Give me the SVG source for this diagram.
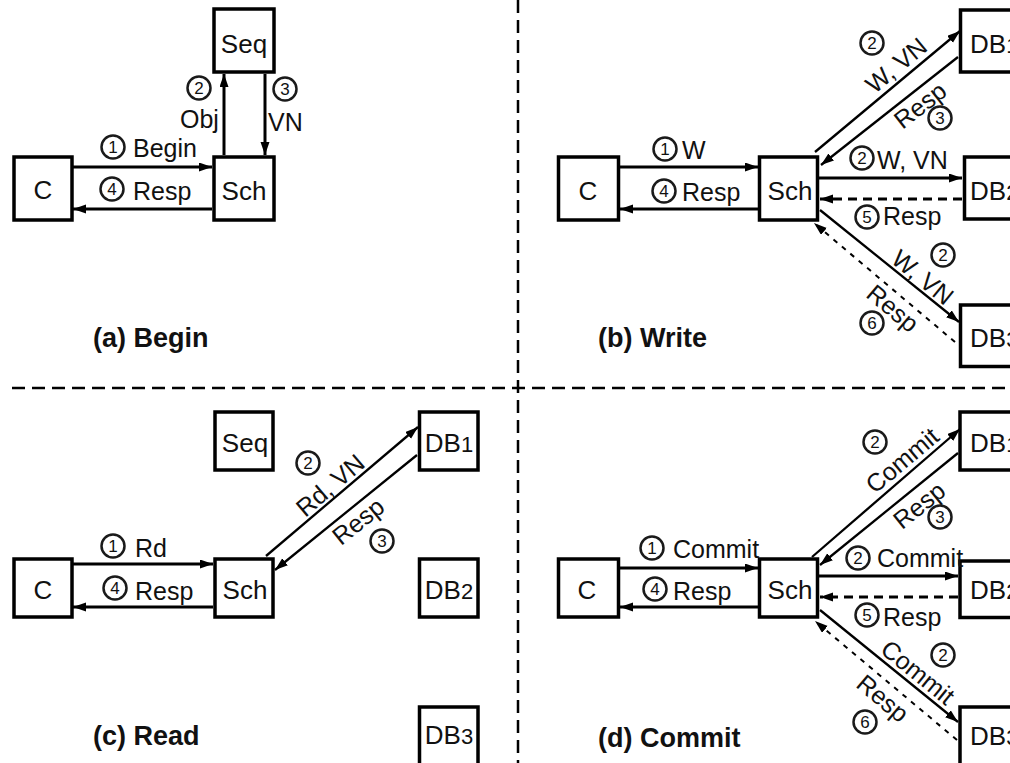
<svg xmlns="http://www.w3.org/2000/svg" width="1010" height="763" viewBox="0 0 1010 763">
<style>
text{font-family:"Liberation Sans",Arial,sans-serif;fill:#111}
.box{fill:#fff;stroke:#000;stroke-width:3.5}
.nl{font-size:26px}
.nc{text-anchor:middle}
.dg{font-size:22px}
.el{font-size:25px}
.num circle{fill:none;stroke:#1a1a1a;stroke-width:2.5}
.num text{font-size:17px;text-anchor:middle}
.rl{text-anchor:middle}
.ln{stroke:#000;stroke-width:3;fill:none;marker-end:url(#ah)}
.dgl{stroke-width:2.3}
.ds{stroke-dasharray:9 6}
.dd{stroke-dasharray:5 6;stroke-width:2}
.div{stroke:#000;stroke-width:2.5;stroke-dasharray:13 7;fill:none}
.cap{font-weight:bold;font-size:27px}
</style>
<defs>
<marker id="ah" markerUnits="userSpaceOnUse" markerWidth="14" markerHeight="10" refX="13" refY="4.5" orient="auto">
<path d="M0,0 L13,4.5 L0,9 Z" fill="#000"/>
</marker>
</defs>
<rect width="1010" height="763" fill="#fff"/>
<g id="dividers">
<line class="div" x1="518" y1="0" x2="518" y2="763"/>
<line class="div" x1="12" y1="388" x2="1010" y2="388"/>
</g>
<g id="connectors">
<!-- (a) -->
<line class="ln" x1="73" y1="167" x2="212" y2="167"/>
<line class="ln" x1="212" y1="209" x2="73" y2="209"/>
<line class="ln" x1="224" y1="155" x2="224" y2="74"/>
<line class="ln" x1="265" y1="74" x2="265" y2="155"/>
<!-- (b) -->
<line class="ln" x1="620" y1="167" x2="758" y2="167"/>
<line class="ln" x1="758" y1="209" x2="620" y2="209"/>
<line class="ln dgl" x1="815" y1="152" x2="960" y2="31"/>
<line class="ln dgl" x1="958" y1="57" x2="821" y2="165"/>
<line class="ln" x1="819" y1="178" x2="962" y2="178"/>
<line class="ln ds" x1="962" y1="199" x2="820" y2="199"/>
<line class="ln dgl" x1="820" y1="210" x2="959" y2="322"/>
<line class="ln dd" x1="955" y1="342" x2="814" y2="223"/>
<!-- (c) -->
<line class="ln" x1="73" y1="564" x2="213" y2="564"/>
<line class="ln" x1="213" y1="607" x2="73" y2="607"/>
<line class="ln dgl" x1="266" y1="556" x2="418" y2="427"/>
<line class="ln dgl" x1="417" y1="455" x2="275" y2="570"/>
<!-- (d) -->
<line class="ln" x1="620" y1="568" x2="758" y2="568"/>
<line class="ln" x1="758" y1="607" x2="620" y2="607"/>
<line class="ln dgl" x1="812" y1="557" x2="960" y2="429"/>
<line class="ln dgl" x1="958" y1="453" x2="820" y2="565"/>
<line class="ln" x1="819" y1="576" x2="958" y2="576"/>
<line class="ln ds" x1="958" y1="597" x2="820" y2="597"/>
<line class="ln dgl" x1="820" y1="610" x2="958" y2="722"/>
<line class="ln dd" x1="957" y1="740" x2="815" y2="621"/>
</g>
<!-- nodes (a) -->
<g id="a-seq"><rect class="box" x="214" y="9" width="60" height="63"/><text class="nl nc" x="244" y="53">Seq</text></g>
<g id="a-c"><rect class="box" x="14" y="157" width="58" height="63"/><text class="nl nc" x="43" y="199">C</text></g>
<g id="a-sch"><rect class="box" x="214" y="157" width="60" height="63"/><text class="nl nc" x="244" y="200">Sch</text></g>
<!-- nodes (b) -->
<g id="b-c"><rect class="box" x="558.5" y="157" width="60" height="63"/><text class="nl nc" x="588" y="200">C</text></g>
<g id="b-sch"><rect class="box" x="759.5" y="157" width="58" height="63"/><text class="nl nc" x="790" y="200">Sch</text></g>
<g id="b-db1"><rect class="box" x="960.5" y="10" width="70" height="62"/><text class="nl" x="970" y="53">DB<tspan class="dg">1</tspan></text></g>
<g id="b-db2"><rect class="box" x="964.5" y="157" width="70" height="62"/><text class="nl" x="970" y="200">DB<tspan class="dg">2</tspan></text></g>
<g id="b-db3"><rect class="box" x="960.5" y="305" width="70" height="61.5"/><text class="nl" x="970" y="347">DB<tspan class="dg">3</tspan></text></g>
<!-- nodes (c) -->
<g id="c-seq"><rect class="box" x="215" y="412" width="58" height="58"/><text class="nl nc" x="245" y="452">Seq</text></g>
<g id="c-db1"><rect class="box" x="419.5" y="412" width="58.5" height="58"/><text class="nl nc" x="449" y="452">DB<tspan class="dg">1</tspan></text></g>
<g id="c-c"><rect class="box" x="14" y="559" width="58" height="58"/><text class="nl nc" x="43" y="599">C</text></g>
<g id="c-sch"><rect class="box" x="215" y="559" width="58" height="58"/><text class="nl nc" x="245" y="599">Sch</text></g>
<g id="c-db2"><rect class="box" x="419.5" y="559" width="58.5" height="58"/><text class="nl nc" x="449" y="599">DB<tspan class="dg">2</tspan></text></g>
<g id="c-db3"><rect class="box" x="419.5" y="707" width="58.5" height="80"/><text class="nl nc" x="449" y="744">DB<tspan class="dg">3</tspan></text></g>
<!-- nodes (d) -->
<g id="d-c"><rect class="box" x="558.5" y="559" width="60" height="58"/><text class="nl nc" x="587" y="599">C</text></g>
<g id="d-sch"><rect class="box" x="759.5" y="559" width="58" height="58"/><text class="nl nc" x="790" y="599">Sch</text></g>
<g id="d-db1"><rect class="box" x="960" y="412" width="70" height="58"/><text class="nl" x="970" y="452">DB<tspan class="dg">1</tspan></text></g>
<g id="d-db2"><rect class="box" x="960" y="561" width="70" height="56.5"/><text class="nl" x="970" y="599">DB<tspan class="dg">2</tspan></text></g>
<g id="d-db3"><rect class="box" x="960" y="707" width="70" height="80"/><text class="nl" x="970" y="745">DB<tspan class="dg">3</tspan></text></g>
<!-- edge labels -->
<g id="labels">
<g class="num">
<circle cx="113" cy="147" r="11.5"/><text x="113" y="153">1</text>
<circle cx="112" cy="189" r="11.5"/><text x="112" y="195">4</text>
<circle cx="199" cy="88" r="11.5"/><text x="199" y="94">2</text>
<circle cx="285" cy="89" r="11.5"/><text x="285" y="95">3</text>
<circle cx="665" cy="149" r="11.5"/><text x="665" y="155">1</text>
<circle cx="664" cy="191" r="11.5"/><text x="664" y="197">4</text>
<circle cx="872" cy="43" r="11.5"/><text x="872" y="49">2</text>
<circle cx="940" cy="118" r="11.5"/><text x="940" y="124">3</text>
<circle cx="862" cy="158" r="11.5"/><text x="862" y="164">2</text>
<circle cx="867" cy="217" r="11.5"/><text x="867" y="223">5</text>
<circle cx="943" cy="255" r="11.5"/><text x="943" y="261">2</text>
<circle cx="872" cy="323" r="11.5"/><text x="872" y="329">6</text>
<circle cx="113" cy="546" r="11.5"/><text x="113" y="552">1</text>
<circle cx="115" cy="588" r="11.5"/><text x="115" y="594">4</text>
<circle cx="308" cy="463" r="11.5"/><text x="308" y="469">2</text>
<circle cx="382" cy="541" r="11.5"/><text x="382" y="547">3</text>
<circle cx="652" cy="548" r="11.5"/><text x="652" y="554">1</text>
<circle cx="655" cy="589" r="11.5"/><text x="655" y="595">4</text>
<circle cx="875" cy="442" r="11.5"/><text x="875" y="448">2</text>
<circle cx="940" cy="517" r="11.5"/><text x="940" y="523">3</text>
<circle cx="858" cy="558" r="11.5"/><text x="858" y="564">2</text>
<circle cx="867" cy="615" r="11.5"/><text x="867" y="621">5</text>
<circle cx="943" cy="655" r="11.5"/><text x="943" y="661">2</text>
<circle cx="865" cy="722" r="11.5"/><text x="865" y="728">6</text>
</g>
<text class="el" x="133" y="157">Begin</text>
<text class="el" x="133" y="200">Resp</text>
<text class="el" x="180" y="128">Obj</text>
<text class="el" x="268" y="131">VN</text>
<text class="el" x="682" y="159">W</text>
<text class="el" x="682" y="201">Resp</text>
<text class="el rl" transform="translate(896,65) rotate(-39.5)" x="0" y="9">W, VN</text>
<text class="el rl" transform="translate(920,105) rotate(-38)" x="0" y="9">Resp</text>
<text class="el" x="877" y="169">W, VN</text>
<text class="el" x="883" y="225">Resp</text>
<text class="el rl" transform="translate(923,277) rotate(39)" x="0" y="9">W, VN</text>
<text class="el rl" transform="translate(893,308) rotate(40)" x="0" y="9">Resp</text>
<text class="el" x="135" y="557">Rd</text>
<text class="el" x="135" y="600">Resp</text>
<text class="el rl" transform="translate(330,485) rotate(-40.5)" x="0" y="9">Rd, VN</text>
<text class="el rl" transform="translate(358,521) rotate(-39)" x="0" y="9">Resp</text>
<text class="el" x="673" y="558">Commit</text>
<text class="el" x="673" y="600">Resp</text>
<text class="el rl" transform="translate(902,460) rotate(-40)" x="0" y="9">Commit</text>
<text class="el rl" transform="translate(919,505) rotate(-39)" x="0" y="9">Resp</text>
<text class="el" x="877" y="567">Commit</text>
<text class="el" x="883" y="626">Resp</text>
<text class="el rl" transform="translate(918,672) rotate(39)" x="0" y="9">Commit</text>
<text class="el rl" transform="translate(883,698) rotate(40)" x="0" y="9">Resp</text>
</g>
<g id="captions">
<text class="cap" x="93" y="347">(a) Begin</text>
<text class="cap" x="598" y="347">(b) Write</text>
<text class="cap" x="93" y="745">(c) Read</text>
<text class="cap" x="598" y="747">(d) Commit</text>
</g>
</svg>
